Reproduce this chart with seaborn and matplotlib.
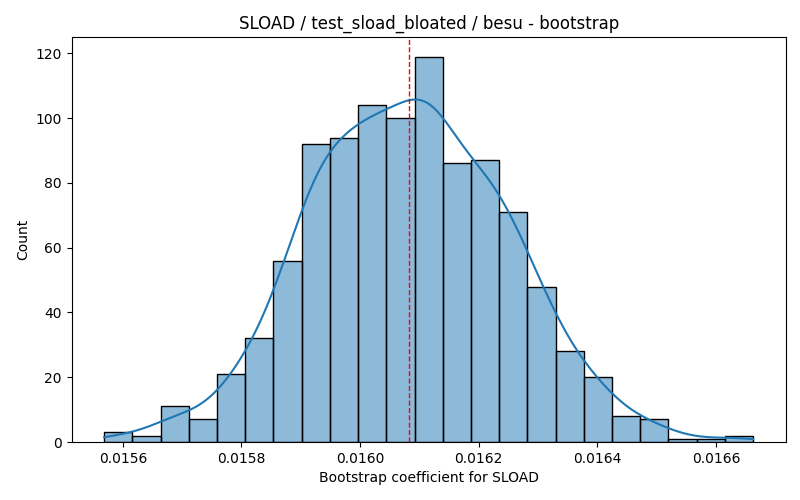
import numpy as np
import pandas as pd
import matplotlib
matplotlib.use("Agg")
import matplotlib.pyplot as plt
import seaborn as sns

# Histogram
bin_lo = 0.0155685
bin_hi = 0.0166628
counts = [3, 2, 11, 7, 21, 32, 56, 92, 94, 104, 100, 119,
          86, 87, 71, 48, 28, 20, 8, 7, 1, 1, 2]
mean_value = 0.016083

title = "SLOAD / test_sload_bloated / besu - bootstrap"
xlabel = "Bootstrap coefficient for SLOAD"
ylabel = "Count"

edges = np.linspace(bin_lo, bin_hi, len(counts) + 1)
centers = (edges[:-1] + edges[1:]) / 2
df = pd.DataFrame({"coef": centers, "n": counts})

# the binned weights give a small effective sample size; rescale the
# bandwidth so it matches Scott's rule for the full 1000 samples
w = np.asarray(counts, dtype=float)
n_eff = w.sum() ** 2 / (w ** 2).sum()
bw_adj = (w.sum() ** -0.2) / (n_eff ** -0.2)

fig, ax = plt.subplots(figsize=(8, 5), dpi=100)
sns.histplot(data=df, x="coef", weights="n", bins=len(counts),
             binrange=(bin_lo, bin_hi), kde=True,
             kde_kws={"bw_adjust": bw_adj, "cut": 1, "clip": (bin_lo, bin_hi)},
             ax=ax)
ax.axvline(mean_value, color="red", linestyle="--", linewidth=1)
ax.set_title(title)
ax.set_xlabel(xlabel)
ax.set_ylabel(ylabel)
fig.subplots_adjust(left=0.0896, right=0.982, top=0.9254, bottom=0.116)
fig.savefig("out.png", dpi=100)
